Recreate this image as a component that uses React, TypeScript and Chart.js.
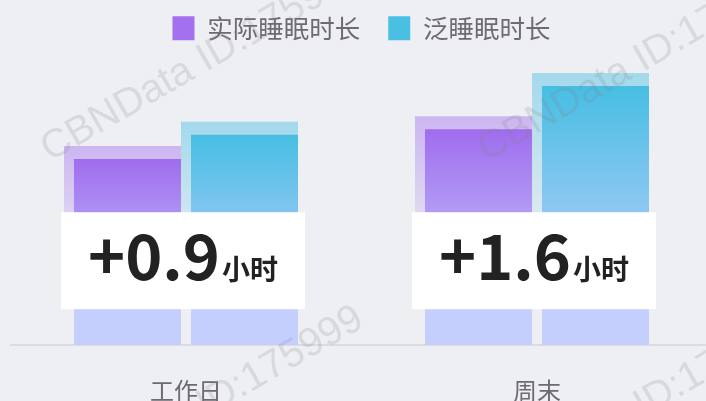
import React, { useEffect, useRef } from 'react';
import { Chart, registerables } from 'chart.js';

Chart.register(...registerables);

const categories = ['工作日', '周末'];
const seriesNames = ['实际睡眠时长', '泛睡眠时长'];
const actualSleep = [6.9, 8.0];
const panSleep = [7.8, 9.6];
const diffLabels = ['+0.9', '+1.6'];
const diffUnit = '小时';
const watermarkText = 'CBNData ID:175999';
const yMax = 10.9;

const FONT = '"Noto Sans CJK SC", "Noto Sans", sans-serif';
const TOP_COLORS = ['#a06cee', '#47bee3'];
const LEGEND_COLORS = ['#a370ef', '#48bfe3'];
const SHADOW_RGB = [
  [163, 112, 239],
  [71, 190, 227],
];
const BOTTOM_COLOR = '#c5cffd';
const BG = '#eeeff3';

function barGradient(di: number) {
  return (ctx: any) => {
    const chart = ctx.chart;
    if (ctx.type !== 'data' || !chart.chartArea || !chart.scales.y) return LEGEND_COLORS[di];
    const y = chart.scales.y;
    const top = y.getPixelForValue(ctx.raw);
    const bottom = y.getPixelForValue(0);
    const g = chart.ctx.createLinearGradient(0, top, 0, bottom - 40);
    g.addColorStop(0, TOP_COLORS[di]);
    g.addColorStop(1, BOTTOM_COLOR);
    return g;
  };
}

const shadowPlugin = {
  id: 'barShadow',
  beforeDatasetsDraw(chart: any) {
    const ctx = chart.ctx;
    chart.data.datasets.forEach((_ds: any, di: number) => {
      const meta = chart.getDatasetMeta(di);
      meta.data.forEach((el: any) => {
        const { x, y, base, width } = el.getProps(['x', 'y', 'base', 'width'], true);
        const left = x - width / 2 - 10;
        const right = x + width / 2;
        const top = y - 13;
        const [r, g, b] = SHADOW_RGB[di];
        const grad = ctx.createLinearGradient(0, top, 0, top + (base - top) * 0.7);
        grad.addColorStop(0, `rgba(${r},${g},${b},0.45)`);
        grad.addColorStop(1, `rgba(${r},${g},${b},0)`);
        ctx.save();
        ctx.fillStyle = grad;
        ctx.fillRect(left, top, right - left, base - top);
        ctx.restore();
      });
    });
  },
};

const diffBoxPlugin = {
  id: 'diffBox',
  afterDatasetsDraw(chart: any) {
    const ctx = chart.ctx;
    const xs = chart.scales.x;
    const area = chart.chartArea;
    const bigFont = `bold 63px ${FONT}`;
    const unitFont = `bold 28px ${FONT}`;
    diffLabels.forEach((lab, i) => {
      const cx = xs.getPixelForValue(i) - 3;
      ctx.save();
      ctx.font = bigFont;
      const wb = ctx.measureText(lab).width;
      ctx.font = unitFont;
      const wu = ctx.measureText(diffUnit).width;
      const total = wb + 2 + wu;
      const boxW = total + 54;
      const boxTop = area.bottom - 133;
      const boxH = 97;
      ctx.fillStyle = '#ffffff';
      ctx.fillRect(cx - boxW / 2, boxTop, boxW, boxH);
      const baseLine = area.bottom - 65;
      ctx.fillStyle = '#222222';
      ctx.textAlign = 'left';
      ctx.textBaseline = 'alphabetic';
      ctx.font = bigFont;
      ctx.fillText(lab, cx - total / 2, baseLine);
      ctx.font = unitFont;
      ctx.fillText(diffUnit, cx - total / 2 + wb + 2, baseLine);
      ctx.restore();
    });
  },
};

const watermarkPlugin = {
  id: 'watermark',
  afterDraw(chart: any) {
    const ctx = chart.ctx;
    ctx.save();
    ctx.font = '40px "Liberation Sans", Arial, sans-serif';
    ctx.fillStyle = 'rgba(128,128,128,0.2)';
    ctx.textAlign = 'left';
    ctx.textBaseline = 'alphabetic';
    for (let r = 0; r < 2; r++) {
      for (let c = 0; c < 2; c++) {
        ctx.save();
        ctx.translate(50 + 437 * c, 162 + 346 * r);
        ctx.rotate(-Math.PI / 6);
        ctx.fillText(watermarkText, 0, 0);
        ctx.restore();
      }
    }
    ctx.restore();
  },
};

export default function App() {
  const ref = useRef<HTMLCanvasElement>(null);

  useEffect(() => {
    if (!ref.current) return;
    const chart = new Chart(ref.current, {
      type: 'bar',
      data: {
        labels: categories,
        datasets: [
          {
            label: seriesNames[0],
            data: actualSleep,
            backgroundColor: barGradient(0),
            borderWidth: 0,
            barPercentage: 0.9145,
            categoryPercentage: 0.6667,
          },
          {
            label: seriesNames[1],
            data: panSleep,
            backgroundColor: barGradient(1),
            borderWidth: 0,
            barPercentage: 0.9145,
            categoryPercentage: 0.6667,
          },
        ],
      },
      options: {
        responsive: false,
        animation: false,
        devicePixelRatio: 1,
        layout: { padding: { left: 10.5, right: 1.5, top: -12.5, bottom: 7 } },
        plugins: {
          tooltip: { enabled: false },
          legend: {
            position: 'top',
            labels: {
              boxWidth: 22,
              boxHeight: 24,
              padding: 28,
              color: '#6e6a70',
              font: { size: 25.5, family: FONT },
              generateLabels: (c: any) =>
                c.data.datasets.map((ds: any, i: number) => ({
                  text: ds.label,
                  fillStyle: LEGEND_COLORS[i],
                  strokeStyle: LEGEND_COLORS[i],
                  lineWidth: 0,
                  hidden: false,
                  datasetIndex: i,
                  fontColor: '#6e6a70',
                })),
            },
          },
        },
        scales: {
          x: {
            grid: { display: false, drawTicks: false, tickLength: 0 },
            border: { display: true, color: '#dcdce0', width: 2 },
            ticks: {
              color: '#6e6a70',
              padding: 31,
              maxRotation: 0,
              font: { size: 24, family: FONT },
            },
          },
          y: {
            display: false,
            min: 0,
            max: yMax,
            grid: { display: false },
          },
        },
      },
      plugins: [shadowPlugin, diffBoxPlugin, watermarkPlugin],
    });
    return () => chart.destroy();
  }, []);

  return (
    <div
      style={{
        position: 'fixed',
        left: 0,
        top: 0,
        width: 706,
        height: 401,
        overflow: 'hidden',
        background: BG,
      }}
    >
      <canvas ref={ref} width={714} height={443} style={{ display: 'block' }} />
    </div>
  );
}
